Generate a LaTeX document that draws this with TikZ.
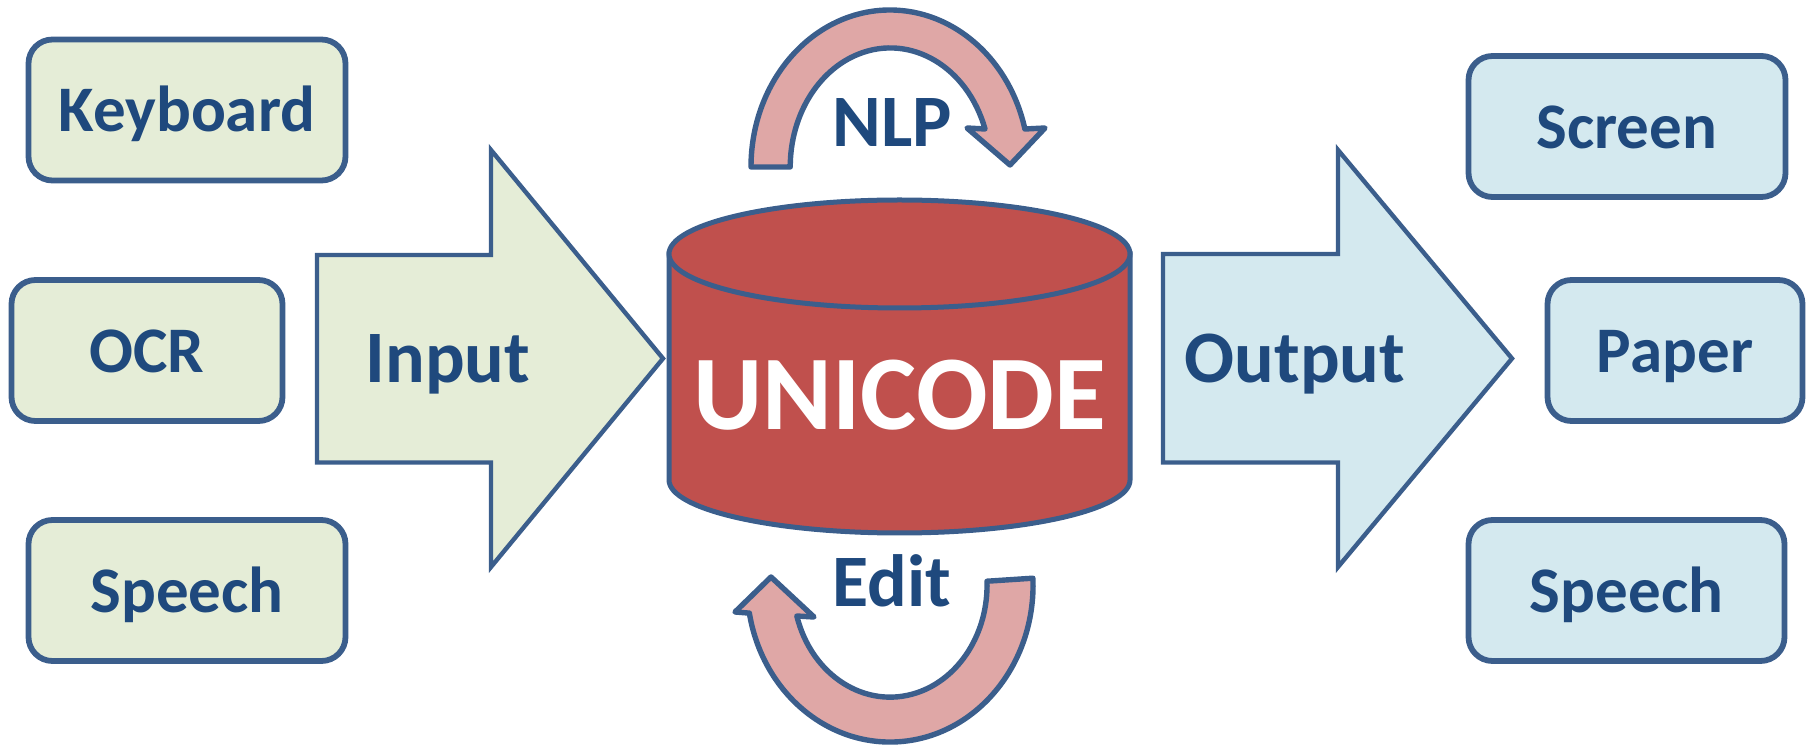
\documentclass[tikz,border=0pt]{standalone}
\usepackage{fontspec}
\setmainfont{Carlito}
\definecolor{edge}{HTML}{3B5E8C}
\definecolor{ink}{HTML}{1F497D}
\definecolor{ingreen}{HTML}{E5EDD7}
\definecolor{outblue}{HTML}{D4E9EF}
\definecolor{store}{HTML}{C0504D}
\definecolor{loopfill}{HTML}{DFA7A6}
\begin{document}
\begin{tikzpicture}[x=0.5pt,y=-0.5pt,
  box/.style={draw=edge, line width=2.9pt, rounded corners=12pt, inner sep=0pt,
    minimum height=70.5pt, text=ink, font=\fontsize{32.5}{39}\selectfont\bfseries,
    text height=22pt, text depth=0pt},
  inbox/.style={box, fill=ingreen},
  outbox/.style={box, fill=outblue},
  blockarrow/.style={draw=edge, line width=2.2pt, line join=miter},
  looparrow/.style={draw=edge, fill=loopfill, line width=2.7pt, line join=round},
  flowlabel/.style={anchor=base, inner sep=0pt, text=ink, font=\fontsize{37}{44}\selectfont\bfseries},
  storelabel/.style={anchor=base, inner sep=0pt, text=white, font=\fontsize{53}{62}\selectfont\bfseries}]
\useasboundingbox (0,0) rectangle (1813,747);

% sources
\node[inbox, minimum width=158.5pt] (keyboard) at (187,110) {Keyboard};
\node[inbox, minimum width=135.5pt] (ocr) at (147,350.5) {OCR};
\node[inbox, minimum width=158.5pt] (speechin) at (187,590.5) {Speech};

% targets
\node[outbox, minimum width=158.5pt] (screen) at (1627,126.5) {Screen};
\node[outbox, minimum width=127.5pt] (paper) at (1675,350.5) {Paper};
\node[outbox, minimum width=158pt] (speechout) at (1626.5,590.5) {Speech};

% input and output block arrows
\draw[blockarrow, fill=ingreen] (317,255) -- (491,255) -- (491,150) -- (663,358.5)
  -- (491,567) -- (491,462.5) -- (317,462.5) -- cycle;
\draw[blockarrow, fill=outblue] (1163,254) -- (1338,254) -- (1338,150) -- (1512,358.5)
  -- (1338,567) -- (1338,462.5) -- (1163,462.5) -- cycle;
\node[flowlabel] (input) at (448,383) {Input};
\node[flowlabel] (output) at (1295,383) {Output};

% storage cylinder
\draw[draw=edge, fill=store, line width=2.5pt]
  (669,254) -- (669,480) arc[start angle=180, end angle=0, x radius=230.5, y radius=53]
  -- (1130,254) -- cycle;
\draw[draw=edge, fill=store, line width=2.5pt] (899.5,254) ellipse [x radius=230.5, y radius=54];
\node[storelabel] (unicode) at (900,430) {UNICODE};

% NLP loop over the top
\draw[looparrow] (751,167) arc[start angle=180, end angle=346, x radius=139, y radius=157]
  -- (1045,128) -- (1010,165) -- (967,128)
  -- (985,129) arc[start angle=341.4, end angle=180, x radius=100, y radius=119] -- cycle;
\node[flowlabel] (nlp) at (892,147) {NLP};

% Edit loop underneath
\draw[looparrow] (1032.9,578.2) arc[start angle=-2.5, end angle=169.7, x radius=143, y radius=157]
  -- (735,612) -- (771,577) -- (814,617)
  -- (796.8,616) arc[start angle=164, end angle=-2, x radius=97, y radius=112] -- cycle;
\node[flowlabel] (edit) at (892,607) {Edit};
\end{tikzpicture}
\end{document}
